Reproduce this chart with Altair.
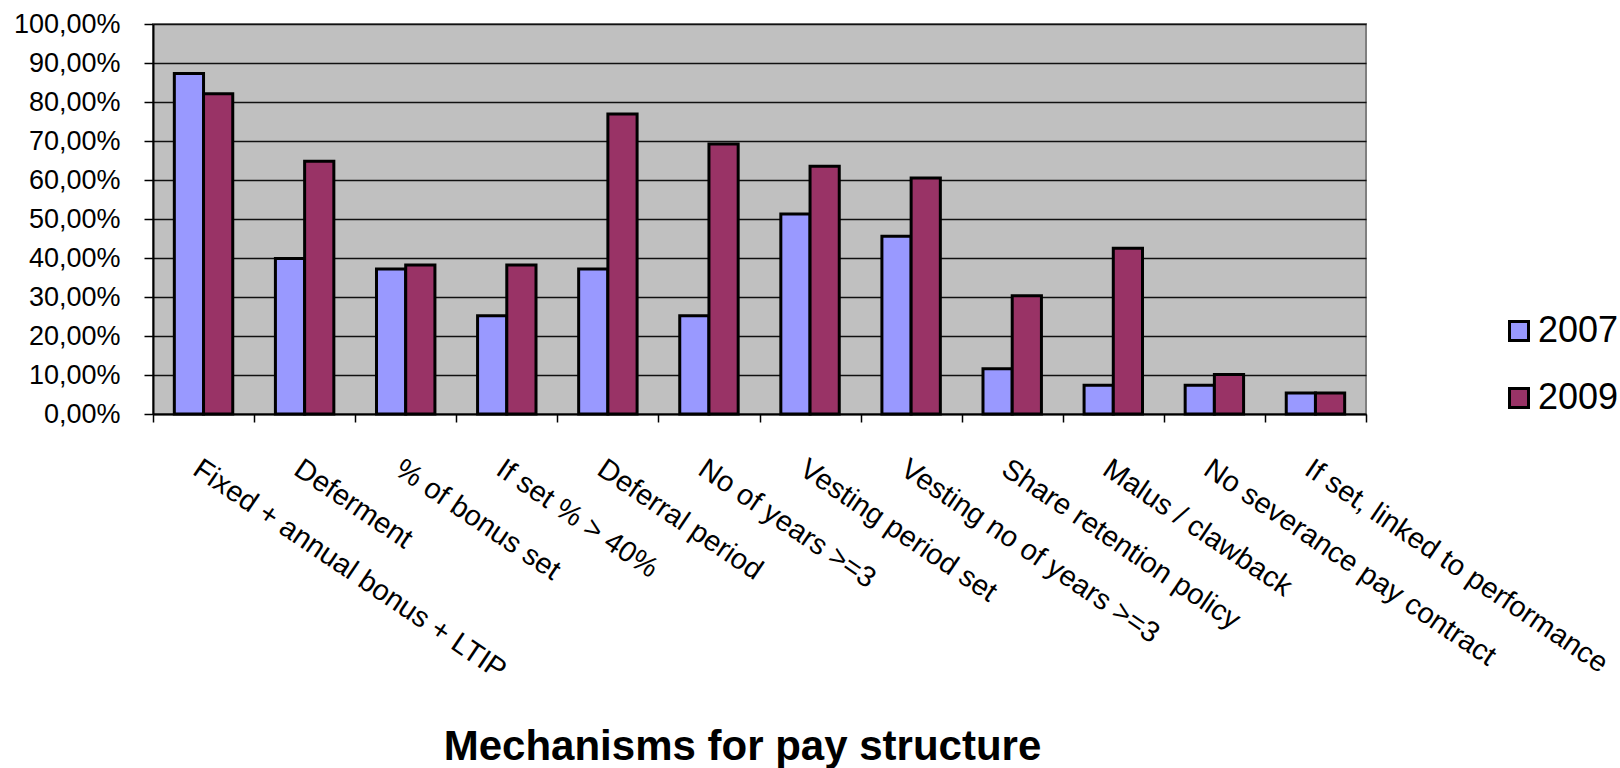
import altair as alt
import pandas as pd

# Pay-structure mechanisms and the share of firms using each one
mechanisms = [
    "Fixed + annual bonus + LTIP",
    "Deferment",
    "% of bonus set",
    "If set % > 40%",
    "Deferral period",
    "No of years >=3",
    "Vesting period set",
    "Vesting no of years >=3",
    "Share retention policy",
    "Malus / clawback",
    "No severance pay contract",
    "If set, linked to performance",
]
years = ["2007", "2009"]
share_2007 = [0.873, 0.399, 0.372, 0.252, 0.372, 0.252, 0.513, 0.456, 0.116, 0.074, 0.074, 0.054]
share_2009 = [0.821, 0.648, 0.382, 0.382, 0.769, 0.692, 0.635, 0.605, 0.303, 0.425, 0.101, 0.054]
y_ticks = [0.0, 0.1, 0.2, 0.3, 0.4, 0.5, 0.6, 0.7, 0.8, 0.9, 1.0]
colors = ["#9999FF", "#993366"]

rows = []
for m, a, b in zip(mechanisms, share_2007, share_2009):
    rows.append({"mechanism": m, "year": years[0], "share": a})
    rows.append({"mechanism": m, "year": years[1], "share": b})
df = pd.DataFrame(rows)

FONT = "Liberation Sans, Arial, sans-serif"

chart = (
    alt.Chart(df)
    .mark_bar(stroke="black", strokeWidth=3)
    .encode(
        x=alt.X(
            "mechanism:N",
            sort=mechanisms,
            scale=alt.Scale(paddingInner=0, paddingOuter=0),
            axis=alt.Axis(
                title="Mechanisms for pay structure",
                titleFont=FONT,
                titleFontSize=42,
                titleFontWeight="bold",
                titleColor="black",
                titleAlign="center",
                titleBaseline="alphabetic",
                titleX=589,
                titleY=345,
                labelFont=FONT,
                labelFontSize=29,
                labelColor="black",
                labelAngle=34,
                labelAlign="left",
                labelBaseline="top",
                labelPadding=32,
                labelLimit=0,
                labelOverlap=False,
                labelFlush=False,
                domainColor="black",
                domainWidth=2,
                tickBand="extent",
                tickColor="black",
                tickWidth=1.5,
                tickSize=8,
                grid=False,
            ),
        ),
        xOffset=alt.XOffset(
            "year:N",
            sort=years,
            scale=alt.Scale(paddingInner=0, paddingOuter=0.73),
        ),
        y=alt.Y(
            "share:Q",
            scale=alt.Scale(domain=[0, 1], nice=False),
            axis=alt.Axis(
                title=None,
                values=y_ticks,
                labelExpr="replace(format(datum.value, '.2%'), '.', ',')",
                labelFont=FONT,
                labelFontSize=27,
                labelColor="black",
                labelPadding=24,
                domainColor="black",
                domainWidth=2,
                tickColor="black",
                tickWidth=1.5,
                tickSize=9,
                grid=True,
                gridColor="#111111",
                gridWidth=1.5,
            ),
        ),
        fill=alt.Fill(
            "year:N",
            sort=years,
            scale=alt.Scale(domain=years, range=colors),
            legend=alt.Legend(
                title=None,
                orient="none",
                legendX=1348,
                legendY=289,
                padding=0,
                symbolType="square",
                symbolSize=361,
                symbolStrokeColor="black",
                symbolStrokeWidth=3,
                symbolOpacity=1,
                labelFont=FONT,
                labelFontSize=36,
                labelColor="black",
                labelOffset=1,
                rowPadding=31,
            ),
        ),
    )
    .properties(
        width=1213,
        height=390,
        autosize=alt.AutoSizeParams(type="none"),
        padding={"left": 153, "top": 24, "right": 254, "bottom": 354},
        background="white",
    )
    .configure_view(fill="#C0C0C0", stroke="#808080", strokeWidth=2)
)

chart.save("out.html", embed_options={"renderer": "svg", "actions": False})
